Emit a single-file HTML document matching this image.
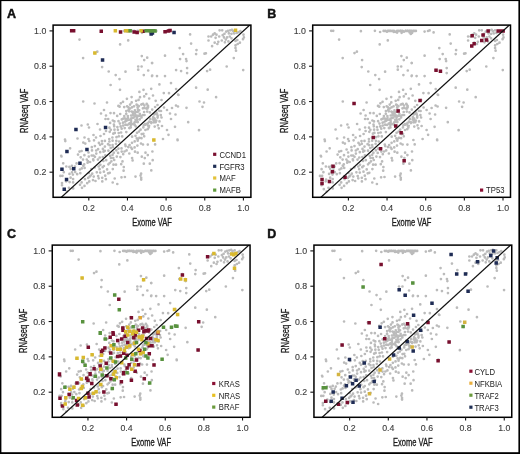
<!DOCTYPE html>
<html><head><meta charset="utf-8"><style>
html,body{margin:0;padding:0;background:#fff;}
svg{display:block;filter:blur(0.3px);}
text{font-family:"Liberation Sans", sans-serif;}
.tk{font-size:8.8px;fill:#3c3c3c;stroke:#3c3c3c;stroke-width:0.12px;}
.ax{font-size:10.2px;fill:#1a1a1a;stroke:#1a1a1a;stroke-width:0.3px;}
.lg{font-size:8.3px;fill:#222;}
.pl{font-size:12.5px;font-weight:bold;fill:#111;stroke:#111;stroke-width:0.45px;}
</style></head><body>
<svg width="520" height="454" viewBox="0 0 520 454">
<defs><path id="mg" fill="none" stroke="#bbbbbb" stroke-width="2.7" stroke-linecap="round" d="M97.3 51.7h0M79.5 39.6h0M120.1 44.4h0M128.2 40.4h0M83.1 58.1h0M102.1 67.1h0M108.7 71.5h0M115.7 75.1h0M119.5 79.1h0M125.5 71.7h0M141.8 56.1h0M147.2 57.7h0M144.2 60.1h0M152.2 63.1h0M138.2 66.5h0M141.6 66.5h0M138.2 69.7h0M148.2 70.5h0M143.8 75.1h0M152.2 75.7h0M190.1 34.4h0M191.1 43.6h0M179.7 48.1h0M196.5 50.1h0M196.1 54.1h0M204.5 53.7h0M165.0 55.7h0M183.1 54.1h0M180.1 59.1h0M186.1 59.1h0M186.5 61.1h0M152.0 63.1h0M176.1 70.1h0M181.1 71.1h0M187.1 68.1h0M187.1 73.1h0M207.1 71.1h0M210.1 69.7h0M226.7 66.5h0M243.2 70.1h0M233.8 58.1h0M152.0 76.1h0M157.0 76.1h0M165.0 76.1h0M171.0 83.1h0M176.1 89.1h0M196.1 87.7h0M207.7 89.7h0M169.0 93.2h0M178.1 94.6h0M216.1 97.2h0M177.6 140.2h0M68.9 187.8h0M73.2 188.4h0M62.0 185.2h0M67.0 191.5h0M84.5 185.9h0M82.0 187.8h0M110.6 85.0h0M120.0 89.8h0M139.4 91.9h0M143.5 89.8h0M151.2 88.8h0M159.4 84.4h0M146.2 94.0h0M163.8 93.1h0M120.8 103.3h0M123.0 101.8h0M126.9 98.8h0M131.6 97.1h0M131.7 102.4h0M136.1 100.8h0M138.6 99.9h0M140.0 97.2h0M144.2 96.4h0M149.2 98.5h0M153.0 95.5h0M155.7 100.8h0M118.4 105.9h0M119.6 106.7h0M124.2 107.1h0M128.4 107.3h0M130.1 108.5h0M134.0 106.3h0M137.6 107.6h0M139.2 110.3h0M142.9 108.3h0M143.1 103.8h0M147.1 104.5h0M148.1 107.1h0M152.2 109.6h0M155.1 107.0h0M157.5 105.0h0M110.5 113.1h0M114.0 113.2h0M117.2 115.9h0M120.2 114.0h0M126.2 113.8h0M126.3 111.1h0M129.2 111.3h0M131.8 111.6h0M133.3 114.8h0M135.0 113.5h0M137.7 111.8h0M139.8 113.9h0M142.9 115.0h0M144.1 112.0h0M147.2 111.6h0M149.9 112.4h0M131.1 115.5h0M135.4 116.2h0M127.8 116.1h0M108.2 119.0h0M112.8 120.5h0M114.4 121.4h0M118.5 121.2h0M121.8 119.4h0M123.3 118.6h0M127.9 118.1h0M130.1 119.8h0M133.6 117.6h0M135.5 119.8h0M137.0 117.6h0M141.5 117.4h0M144.5 115.0h0M126.4 120.8h0M129.3 123.6h0M131.1 122.1h0M134.7 122.3h0M137.1 121.8h0M123.0 122.7h0M119.9 123.6h0M110.1 122.9h0M113.9 124.6h0M109.4 127.7h0M110.8 129.8h0M114.2 126.3h0M117.4 127.1h0M120.6 126.4h0M123.1 125.6h0M125.5 124.7h0M130.8 125.1h0M132.9 124.1h0M114.5 129.7h0M117.9 129.8h0M121.7 128.7h0M124.7 128.1h0M129.4 128.2h0M109.7 131.8h0M113.3 133.7h0M114.8 132.9h0M118.7 133.1h0M121.1 132.5h0M126.3 132.1h0M112.4 137.5h0M116.5 137.2h0M118.9 136.3h0M122.2 136.4h0M109.3 139.1h0M132.1 136.7h0M135.5 135.8h0M137.0 132.8h0M139.0 131.5h0M140.6 129.7h0M143.3 127.4h0M145.2 124.1h0M147.3 123.7h0M149.3 121.7h0M150.3 118.9h0M153.4 117.9h0M154.2 114.4h0M156.5 112.5h0M159.3 110.8h0M136.8 138.4h0M139.4 137.8h0M141.7 134.1h0M137.8 139.3h0M143.4 133.8h0M145.4 130.0h0M148.8 127.4h0M149.1 125.8h0M151.3 123.1h0M153.8 122.3h0M156.3 120.7h0M157.6 117.6h0M160.8 115.1h0M144.2 136.3h0M141.5 138.2h0M154.7 126.6h0M157.9 125.3h0M159.5 121.4h0M158.8 128.3h0M83.2 101.5h0M94.5 103.5h0M107.0 102.5h0M104.0 110.0h0M101.0 113.5h0M106.0 115.5h0M105.5 119.0h0M81.5 125.5h0M87.8 124.5h0M89.0 127.5h0M97.5 124.0h0M100.0 129.5h0M93.5 135.0h0M96.0 137.5h0M100.5 136.0h0M104.0 134.0h0M106.0 131.0h0M84.5 137.5h0M88.5 139.0h0M77.5 138.5h0M65.0 139.5h0M65.3 141.1h0M70.1 148.3h0M61.2 155.8h0M61.5 156.5h0M83.3 142.6h0M85.3 143.6h0M89.3 141.0h0M94.0 140.3h0M98.9 142.9h0M101.9 141.1h0M104.9 140.9h0M91.8 147.2h0M94.9 146.1h0M100.1 144.8h0M102.2 143.8h0M108.0 144.2h0M79.5 151.6h0M81.6 151.0h0M84.4 155.2h0M88.5 152.5h0M92.0 150.4h0M96.2 150.5h0M98.1 149.2h0M102.9 148.9h0M104.9 146.6h0M104.8 150.8h0M103.5 151.7h0M100.2 152.2h0M96.3 153.6h0M93.4 155.5h0M91.7 155.5h0M88.8 156.6h0M86.8 159.5h0M83.0 159.6h0M80.7 157.3h0M78.0 154.6h0M87.9 161.2h0M93.2 159.4h0M94.9 156.8h0M99.7 157.5h0M102.8 157.1h0M105.3 155.3h0M63.2 163.3h0M66.3 166.5h0M69.4 166.9h0M71.9 165.9h0M76.6 163.4h0M75.0 166.6h0M83.2 165.7h0M84.2 164.4h0M87.6 162.7h0M90.1 162.0h0M93.4 160.3h0M97.9 159.6h0M70.7 168.9h0M72.0 172.3h0M69.5 173.9h0M75.2 172.1h0M79.9 169.5h0M81.8 168.4h0M84.6 167.9h0M63.8 172.2h0M60.4 175.9h0M62.5 175.8h0M70.6 177.7h0M72.9 174.6h0M77.2 174.2h0M80.3 173.2h0M66.1 181.3h0M62.0 183.0h0M69.6 182.1h0M73.1 179.1h0M73.1 182.4h0M88.8 173.0h0M91.4 169.1h0M94.8 167.5h0M98.6 166.5h0M100.4 164.8h0M103.4 161.0h0M106.2 160.2h0M90.7 175.5h0M92.2 173.7h0M96.8 172.3h0M99.6 169.2h0M102.7 167.2h0M103.9 166.0h0M108.4 164.3h0M85.0 179.2h0M88.2 177.9h0M89.8 176.4h0M93.7 176.6h0M98.1 176.1h0M100.2 172.6h0M103.9 171.7h0M107.1 169.4h0M87.2 183.2h0M89.3 181.4h0M93.0 180.1h0M95.5 181.0h0M98.7 178.3h0M102.2 177.8h0M105.2 175.7h0M108.1 173.3h0M102.3 181.4h0M105.9 179.2h0M80.0 184.8h0M81.6 182.4h0M109.4 141.5h0M112.6 140.7h0M116.3 140.8h0M119.1 141.5h0M109.6 145.2h0M112.6 145.1h0M116.0 143.8h0M110.7 148.0h0M112.8 147.0h0M108.4 150.7h0M125.2 144.6h0M129.6 145.0h0M132.0 142.8h0M134.7 141.4h0M137.7 140.7h0M141.0 143.5h0M143.0 144.5h0M137.4 145.6h0M134.6 147.4h0M131.1 147.6h0M128.3 147.1h0M125.6 146.1h0M121.5 148.4h0M118.5 148.6h0M116.3 150.3h0M113.8 152.7h0M112.6 154.8h0M110.1 155.8h0M118.1 152.9h0M121.7 151.6h0M124.5 151.5h0M126.6 150.4h0M129.3 153.5h0M132.0 148.9h0M135.0 151.7h0M137.7 152.7h0M123.2 154.2h0M120.4 157.1h0M116.8 156.6h0M113.3 158.1h0M110.9 157.9h0M111.4 161.3h0M114.2 160.0h0M109.7 163.0h0M113.5 164.7h0M116.0 164.7h0M122.5 161.4h0M121.2 164.2h0M123.8 167.1h0M123.6 170.7h0M112.8 169.1h0M109.7 172.8h0M132.1 158.0h0M132.6 160.4h0M141.8 156.7h0M145.5 152.7h0M147.8 155.1h0M144.8 158.1h0M143.8 163.7h0M152.4 151.5h0M152.7 160.2h0M149.8 163.7h0M147.8 144.6h0M155.1 144.4h0M151.3 170.4h0M135.5 176.6h0M141.1 173.7h0M140.5 175.6h0M141.2 177.9h0M141.2 179.6h0M121.5 177.3h0M124.9 177.0h0M114.7 178.5h0M112.7 182.5h0M117.3 184.0h0M161.5 100.0h0M164.0 107.5h0M167.0 110.0h0M172.0 108.0h0M176.0 105.5h0M178.0 106.5h0M170.0 113.5h0M175.5 114.5h0M171.0 119.0h0M161.0 111.0h0M161.5 117.5h0M162.0 126.0h0M167.0 130.0h0M175.0 126.8h0M168.5 134.8h0M163.0 139.0h0M177.5 139.5h0M186.5 107.8h0M188.2 122.2h0M199.5 101.5h0M204.0 102.5h0M202.5 106.8h0M199.0 130.2h0M178.5 95.0h0M128.6 109.9h0M126.7 119.2h0M137.9 109.6h0M127.5 124.9h0M136.8 115.5h0M139.1 115.8h0M141.8 104.3h0M135.8 112.1h0M137.1 121.9h0M130.5 123.0h0M141.3 104.6h0M130.8 127.4h0M125.3 118.6h0M146.7 103.9h0M144.5 108.0h0M124.3 116.1h0M147.3 107.7h0M137.1 119.9h0M136.6 104.7h0M141.4 116.2h0M135.7 126.3h0M144.4 105.5h0M133.9 123.6h0M136.8 116.0h0M146.9 108.7h0M132.0 107.3h0M133.0 113.7h0M137.2 105.2h0M133.2 112.4h0M127.9 120.0h0M137.8 122.1h0M146.5 108.5h0M131.0 120.3h0M125.5 124.5h0M130.1 104.6h0M148.0 105.8h0M147.5 108.5h0M129.3 128.0h0M125.1 121.6h0M134.9 110.3h0M134.7 124.9h0M127.1 106.3h0M138.8 106.2h0M130.9 118.6h0M139.7 119.4h0M132.5 117.9h0M154.9 121.5h0M154.0 120.2h0M157.7 116.0h0M148.1 122.8h0M154.6 118.6h0M143.8 125.3h0M148.2 125.7h0M147.7 129.2h0M157.2 114.3h0M155.9 113.8h0M153.1 119.6h0M153.2 117.2h0M145.5 124.7h0M155.7 122.2h0M151.1 122.0h0M219.6 30.3h0M222.2 30.3h0M228.0 30.8h0M230.2 30.3h0M232.0 29.9h0M228.9 33.4h0M231.5 33.8h0M234.2 33.4h0M236.8 33.0h0M238.6 32.1h0M240.4 31.2h0M214.7 33.4h0M213.0 34.7h0M216.5 34.7h0M208.5 36.5h0M211.2 36.5h0M215.6 37.8h0M219.2 36.5h0M222.7 35.2h0M224.0 37.4h0M227.1 37.4h0M225.8 39.6h0M221.8 40.5h0M218.3 41.8h0M214.7 42.7h0M217.4 44.0h0M212.1 46.2h0M208.5 40.5h0M229.8 36.5h0M231.5 38.3h0M228.4 41.4h0M224.9 42.3h0M243.5 34.7h0M243.9 37.4h0M243.0 39.2h0M235.5 40.9h0M237.3 40.0h0M239.9 42.7h0M237.7 44.0h0M235.5 45.4h0M235.5 48.0h0M236.0 50.7h0M205.9 53.3h0M226.2 31.6h0M233.3 31.2h0M224.5 33.8h0M124.0 30.9h0M125.7 30.9h0M127.4 31.7h0M129.1 30.9h0M130.8 30.9h0M132.5 30.9h0M134.2 30.9h0M135.9 31.7h0M137.6 30.9h0M139.3 30.9h0M141.0 30.9h0M142.7 30.9h0M144.4 31.7h0M146.1 30.9h0M147.8 30.9h0M149.5 30.9h0M151.2 30.9h0M152.9 31.7h0M154.6 30.9h0M156.3 30.9h0M137.5 32.6h0M142.0 32.8h0M150.0 32.4h0M71.6 30.8h0M73.6 30.8h0M101.3 31.2h0M120.5 32.0h0M134.2 32.0h0M137.2 32.4h0M143.2 31.2h0M151.2 34.0h0M102.5 60.1h0M115.3 30.8h0M125.7 30.8h0M128.2 30.8h0M141.2 30.8h0M94.9 53.1h0M130.2 30.8h0M146.2 30.8h0M148.2 30.8h0M150.2 30.8h0M152.2 30.8h0M153.8 30.8h0M165.0 31.6h0M168.4 31.0h0M170.0 30.4h0M174.0 32.4h0M152.4 33.0h0M151.0 31.0h0M153.0 31.0h0M155.0 31.0h0M64.2 189.2h0M153.8 140.0h0M76.0 129.5h0M105.5 127.5h0M67.0 151.5h0M87.0 149.5h0M80.0 163.2h0M73.8 168.8h0M62.0 169.2h0M66.5 179.5h0M235.5 30.3h0"/><clipPath id="clip"><rect x="53.1" y="25.1" width="197.80" height="172.20"/></clipPath></defs>
<rect width="520" height="454" fill="#fff"/>
<g transform="translate(0,0)">
<g clip-path="url(#clip)">
<use href="#mg"/>
<path fill="#780f2e" d="M69.9 29.1h3.5v3.5h-3.5zM71.9 29.1h3.5v3.5h-3.5zM99.5 29.5h3.5v3.5h-3.5zM118.8 30.3h3.5v3.5h-3.5zM132.4 30.3h3.5v3.5h-3.5zM135.4 30.7h3.5v3.5h-3.5zM141.4 29.5h3.5v3.5h-3.5zM163.3 29.9h3.5v3.5h-3.5zM166.7 29.3h3.5v3.5h-3.5zM168.3 28.7h3.5v3.5h-3.5z"/>
<path fill="#1f2c55" d="M149.4 32.3h3.5v3.5h-3.5zM100.8 58.3h3.5v3.5h-3.5zM172.3 30.7h3.5v3.5h-3.5zM150.7 31.3h3.5v3.5h-3.5zM62.5 187.5h3.5v3.5h-3.5zM74.2 127.8h3.5v3.5h-3.5zM103.8 125.8h3.5v3.5h-3.5zM65.2 149.8h3.5v3.5h-3.5zM85.2 147.8h3.5v3.5h-3.5zM78.2 161.4h3.5v3.5h-3.5zM72.0 167.1h3.5v3.5h-3.5zM60.2 167.4h3.5v3.5h-3.5zM64.8 177.8h3.5v3.5h-3.5z"/>
<path fill="#d9b92e" d="M113.6 29.1h3.5v3.5h-3.5zM124.0 29.1h3.5v3.5h-3.5zM126.4 29.1h3.5v3.5h-3.5zM139.4 29.1h3.5v3.5h-3.5zM93.1 51.3h3.5v3.5h-3.5zM152.1 138.2h3.5v3.5h-3.5zM233.8 28.6h3.5v3.5h-3.5z"/>
<path fill="#58923e" d="M128.4 29.1h3.5v3.5h-3.5zM144.4 29.1h3.5v3.5h-3.5zM146.4 29.1h3.5v3.5h-3.5zM148.4 29.1h3.5v3.5h-3.5zM150.4 29.1h3.5v3.5h-3.5zM152.0 29.1h3.5v3.5h-3.5zM149.3 29.3h3.5v3.5h-3.5zM151.3 29.3h3.5v3.5h-3.5zM153.3 29.3h3.5v3.5h-3.5z"/>
<line x1="50.15" y1="207.50" x2="262.73" y2="13.24" stroke="#111" stroke-width="1.25"/>
</g>
<rect x="53.1" y="25.1" width="197.80" height="172.20" fill="none" stroke="#000" stroke-width="1.5"/>
<line x1="88.80" y1="197.3" x2="88.80" y2="200.50" stroke="#111" stroke-width="1.1"/>
<line x1="49.50" y1="172.18" x2="53.1" y2="172.18" stroke="#111" stroke-width="1.1"/>
<text x="88.80" y="211.3" class="tk" text-anchor="middle">0.2</text>
<text x="46.3" y="175.33" class="tk" text-anchor="end">0.2</text>
<line x1="127.45" y1="197.3" x2="127.45" y2="200.50" stroke="#111" stroke-width="1.1"/>
<line x1="49.50" y1="136.86" x2="53.1" y2="136.86" stroke="#111" stroke-width="1.1"/>
<text x="127.45" y="211.3" class="tk" text-anchor="middle">0.4</text>
<text x="46.3" y="140.01" class="tk" text-anchor="end">0.4</text>
<line x1="166.10" y1="197.3" x2="166.10" y2="200.50" stroke="#111" stroke-width="1.1"/>
<line x1="49.50" y1="101.54" x2="53.1" y2="101.54" stroke="#111" stroke-width="1.1"/>
<text x="166.10" y="211.3" class="tk" text-anchor="middle">0.6</text>
<text x="46.3" y="104.69" class="tk" text-anchor="end">0.6</text>
<line x1="204.75" y1="197.3" x2="204.75" y2="200.50" stroke="#111" stroke-width="1.1"/>
<line x1="49.50" y1="66.22" x2="53.1" y2="66.22" stroke="#111" stroke-width="1.1"/>
<text x="204.75" y="211.3" class="tk" text-anchor="middle">0.8</text>
<text x="46.3" y="69.37" class="tk" text-anchor="end">0.8</text>
<line x1="243.40" y1="197.3" x2="243.40" y2="200.50" stroke="#111" stroke-width="1.1"/>
<line x1="49.50" y1="30.90" x2="53.1" y2="30.90" stroke="#111" stroke-width="1.1"/>
<text x="243.40" y="211.3" class="tk" text-anchor="middle">1.0</text>
<text x="46.3" y="34.05" class="tk" text-anchor="end">1.0</text>
<text x="152" y="225.7" class="ax" text-anchor="middle" transform="translate(152,0) scale(0.74,1) translate(-152,0)">Exome VAF</text>
<text x="0" y="0" class="ax" text-anchor="middle" transform="translate(28.1,110.8) rotate(-90) scale(0.74,1)">RNAseq VAF</text>
<rect x="213.10" y="152.70" width="3.2" height="3.2" fill="#7a1030"/>
<text transform="translate(219.40,157.60) scale(0.93,1)" class="lg">CCND1</text>
<rect x="213.10" y="164.70" width="3.2" height="3.2" fill="#1f2f55"/>
<text transform="translate(219.40,169.60) scale(0.93,1)" class="lg">FGFR3</text>
<rect x="213.10" y="176.40" width="3.2" height="3.2" fill="#e3c23a"/>
<text transform="translate(219.40,181.30) scale(0.93,1)" class="lg">MAF</text>
<rect x="213.10" y="188.50" width="3.2" height="3.2" fill="#5f9a3c"/>
<text transform="translate(219.40,193.40) scale(0.93,1)" class="lg">MAFB</text>
</g>
<text x="7.0" y="17.6" class="pl">A</text>
<g transform="translate(259.6,0)">
<g clip-path="url(#clip)">
<use href="#mg"/>
<path fill="#780f2e" d="M92.7 101.8h3.5v3.5h-3.5zM210.8 33.9h3.5v3.5h-3.5zM212.8 41.9h3.5v3.5h-3.5zM210.4 44.3h3.5v3.5h-3.5zM221.8 33.3h3.5v3.5h-3.5zM220.4 38.7h3.5v3.5h-3.5zM225.2 38.3h3.5v3.5h-3.5zM226.8 29.3h3.5v3.5h-3.5zM236.8 29.3h3.5v3.5h-3.5zM239.8 29.3h3.5v3.5h-3.5zM241.8 29.3h3.5v3.5h-3.5zM174.7 68.4h3.5v3.5h-3.5zM179.1 69.6h3.5v3.5h-3.5zM158.7 98.8h3.5v3.5h-3.5zM136.8 109.3h3.5v3.5h-3.5zM134.4 124.3h3.5v3.5h-3.5zM139.8 130.9h3.5v3.5h-3.5zM112.0 135.7h3.5v3.5h-3.5zM119.2 146.9h3.5v3.5h-3.5zM142.8 159.0h3.5v3.5h-3.5zM71.7 164.4h3.5v3.5h-3.5zM71.1 170.0h3.5v3.5h-3.5zM83.7 175.4h3.5v3.5h-3.5zM68.1 179.8h3.5v3.5h-3.5zM60.7 177.8h3.5v3.5h-3.5zM60.7 181.8h3.5v3.5h-3.5z"/>
<line x1="50.15" y1="207.50" x2="262.73" y2="13.24" stroke="#111" stroke-width="1.25"/>
</g>
<rect x="53.1" y="25.1" width="197.80" height="172.20" fill="none" stroke="#000" stroke-width="1.5"/>
<line x1="88.80" y1="197.3" x2="88.80" y2="200.50" stroke="#111" stroke-width="1.1"/>
<line x1="49.50" y1="172.18" x2="53.1" y2="172.18" stroke="#111" stroke-width="1.1"/>
<text x="88.80" y="211.3" class="tk" text-anchor="middle">0.2</text>
<text x="46.3" y="175.33" class="tk" text-anchor="end">0.2</text>
<line x1="127.45" y1="197.3" x2="127.45" y2="200.50" stroke="#111" stroke-width="1.1"/>
<line x1="49.50" y1="136.86" x2="53.1" y2="136.86" stroke="#111" stroke-width="1.1"/>
<text x="127.45" y="211.3" class="tk" text-anchor="middle">0.4</text>
<text x="46.3" y="140.01" class="tk" text-anchor="end">0.4</text>
<line x1="166.10" y1="197.3" x2="166.10" y2="200.50" stroke="#111" stroke-width="1.1"/>
<line x1="49.50" y1="101.54" x2="53.1" y2="101.54" stroke="#111" stroke-width="1.1"/>
<text x="166.10" y="211.3" class="tk" text-anchor="middle">0.6</text>
<text x="46.3" y="104.69" class="tk" text-anchor="end">0.6</text>
<line x1="204.75" y1="197.3" x2="204.75" y2="200.50" stroke="#111" stroke-width="1.1"/>
<line x1="49.50" y1="66.22" x2="53.1" y2="66.22" stroke="#111" stroke-width="1.1"/>
<text x="204.75" y="211.3" class="tk" text-anchor="middle">0.8</text>
<text x="46.3" y="69.37" class="tk" text-anchor="end">0.8</text>
<line x1="243.40" y1="197.3" x2="243.40" y2="200.50" stroke="#111" stroke-width="1.1"/>
<line x1="49.50" y1="30.90" x2="53.1" y2="30.90" stroke="#111" stroke-width="1.1"/>
<text x="243.40" y="211.3" class="tk" text-anchor="middle">1.0</text>
<text x="46.3" y="34.05" class="tk" text-anchor="end">1.0</text>
<text x="152" y="225.7" class="ax" text-anchor="middle" transform="translate(152,0) scale(0.74,1) translate(-152,0)">Exome VAF</text>
<text x="0" y="0" class="ax" text-anchor="middle" transform="translate(28.1,110.8) rotate(-90) scale(0.74,1)">RNAseq VAF</text>
<rect x="220.40" y="188.50" width="3.2" height="3.2" fill="#8a1033"/>
<text transform="translate(226.50,193.40) scale(0.93,1)" class="lg">TP53</text>
</g>
<text x="267.3" y="17.8" class="pl">B</text>
<g transform="translate(-0.85,220)">
<g clip-path="url(#clip)">
<use href="#mg"/>
<path fill="#780f2e" d="M206.7 35.0h3.5v3.5h-3.5zM181.5 53.2h3.5v3.5h-3.5zM117.9 77.6h3.5v3.5h-3.5zM130.5 95.9h3.5v3.5h-3.5zM121.9 106.3h3.5v3.5h-3.5zM137.7 108.6h3.5v3.5h-3.5zM141.7 106.3h3.5v3.5h-3.5zM145.1 109.0h3.5v3.5h-3.5zM147.8 108.3h3.5v3.5h-3.5zM112.1 111.0h3.5v3.5h-3.5zM197.8 100.0h3.5v3.5h-3.5zM87.4 125.4h3.5v3.5h-3.5zM112.4 112.4h3.5v3.5h-3.5zM109.3 115.6h3.5v3.5h-3.5zM116.8 118.7h3.5v3.5h-3.5zM104.0 126.3h3.5v3.5h-3.5zM101.7 128.5h3.5v3.5h-3.5zM100.6 130.1h3.5v3.5h-3.5zM109.8 131.2h3.5v3.5h-3.5zM116.8 134.8h3.5v3.5h-3.5zM105.3 141.5h3.5v3.5h-3.5zM99.3 144.2h3.5v3.5h-3.5zM93.2 146.9h3.5v3.5h-3.5zM89.2 151.9h3.5v3.5h-3.5zM58.6 152.3h3.5v3.5h-3.5zM122.1 108.6h3.5v3.5h-3.5zM120.8 117.3h3.5v3.5h-3.5zM124.2 114.6h3.5v3.5h-3.5zM126.8 120.7h3.5v3.5h-3.5zM132.9 116.0h3.5v3.5h-3.5zM134.3 113.3h3.5v3.5h-3.5zM143.0 109.9h3.5v3.5h-3.5zM147.0 109.3h3.5v3.5h-3.5zM145.7 116.7h3.5v3.5h-3.5zM149.7 116.7h3.5v3.5h-3.5zM157.1 111.3h3.5v3.5h-3.5zM148.4 124.1h3.5v3.5h-3.5zM151.1 124.1h3.5v3.5h-3.5zM148.4 132.1h3.5v3.5h-3.5zM119.4 134.2h3.5v3.5h-3.5zM122.8 131.5h3.5v3.5h-3.5zM126.2 133.5h3.5v3.5h-3.5zM135.6 138.2h3.5v3.5h-3.5zM137.6 142.9h3.5v3.5h-3.5zM128.2 142.9h3.5v3.5h-3.5zM126.2 146.3h3.5v3.5h-3.5zM134.3 149.6h3.5v3.5h-3.5zM122.8 151.0h3.5v3.5h-3.5zM153.1 143.3h3.5v3.5h-3.5zM139.0 128.8h3.5v3.5h-3.5zM58.6 152.9h3.5v3.5h-3.5zM89.2 152.6h3.5v3.5h-3.5zM85.8 156.6h3.5v3.5h-3.5zM87.1 158.6h3.5v3.5h-3.5zM76.1 161.3h3.5v3.5h-3.5zM90.9 161.7h3.5v3.5h-3.5zM110.0 156.9h3.5v3.5h-3.5zM68.3 172.8h3.5v3.5h-3.5zM59.1 176.5h3.5v3.5h-3.5zM61.6 184.2h3.5v3.5h-3.5zM75.7 178.8h3.5v3.5h-3.5zM76.4 183.3h3.5v3.5h-3.5zM88.2 175.2h3.5v3.5h-3.5zM103.0 170.3h3.5v3.5h-3.5zM115.1 182.5h3.5v3.5h-3.5zM106.0 153.9h3.5v3.5h-3.5zM87.1 171.4h3.5v3.5h-3.5zM122.8 151.9h3.5v3.5h-3.5zM120.5 160.0h3.5v3.5h-3.5zM130.5 158.6h3.5v3.5h-3.5zM143.4 156.9h3.5v3.5h-3.5zM197.2 128.3h3.5v3.5h-3.5z"/>
<path fill="#d9b92e" d="M213.0 31.7h3.5v3.5h-3.5zM230.9 32.3h3.5v3.5h-3.5zM232.9 33.0h3.5v3.5h-3.5zM235.0 31.7h3.5v3.5h-3.5zM233.6 46.5h3.5v3.5h-3.5zM184.5 57.9h3.5v3.5h-3.5zM179.8 57.2h3.5v3.5h-3.5zM81.2 56.3h3.5v3.5h-3.5zM142.7 57.9h3.5v3.5h-3.5zM126.9 105.6h3.5v3.5h-3.5zM128.9 109.6h3.5v3.5h-3.5zM132.9 109.6h3.5v3.5h-3.5zM173.6 87.8h3.5v3.5h-3.5zM176.7 92.8h3.5v3.5h-3.5zM76.1 136.6h3.5v3.5h-3.5zM82.4 135.8h3.5v3.5h-3.5zM91.2 133.1h3.5v3.5h-3.5zM100.6 133.5h3.5v3.5h-3.5zM99.9 138.9h3.5v3.5h-3.5zM110.3 124.1h3.5v3.5h-3.5zM112.7 126.8h3.5v3.5h-3.5zM116.8 127.4h3.5v3.5h-3.5zM112.4 139.5h3.5v3.5h-3.5zM114.1 150.0h3.5v3.5h-3.5zM99.9 147.6h3.5v3.5h-3.5zM124.8 109.9h3.5v3.5h-3.5zM126.8 113.3h3.5v3.5h-3.5zM131.6 112.0h3.5v3.5h-3.5zM135.6 110.6h3.5v3.5h-3.5zM138.3 115.3h3.5v3.5h-3.5zM141.7 114.6h3.5v3.5h-3.5zM141.0 118.0h3.5v3.5h-3.5zM128.9 124.1h3.5v3.5h-3.5zM125.5 125.4h3.5v3.5h-3.5zM133.6 121.4h3.5v3.5h-3.5zM119.4 127.4h3.5v3.5h-3.5zM123.5 128.8h3.5v3.5h-3.5zM137.6 127.4h3.5v3.5h-3.5zM142.3 130.8h3.5v3.5h-3.5zM147.0 122.0h3.5v3.5h-3.5zM155.1 118.0h3.5v3.5h-3.5zM157.1 118.7h3.5v3.5h-3.5zM131.6 132.8h3.5v3.5h-3.5zM139.6 132.1h3.5v3.5h-3.5zM120.8 140.9h3.5v3.5h-3.5zM130.9 147.6h3.5v3.5h-3.5zM133.6 142.9h3.5v3.5h-3.5zM80.4 157.3h3.5v3.5h-3.5zM81.5 164.7h3.5v3.5h-3.5zM80.4 166.7h3.5v3.5h-3.5zM69.0 167.4h3.5v3.5h-3.5zM73.0 165.4h3.5v3.5h-3.5zM64.9 176.1h3.5v3.5h-3.5zM64.3 182.2h3.5v3.5h-3.5zM81.8 183.5h3.5v3.5h-3.5zM84.4 176.1h3.5v3.5h-3.5zM92.5 171.4h3.5v3.5h-3.5zM95.2 170.1h3.5v3.5h-3.5zM99.9 162.7h3.5v3.5h-3.5zM77.7 176.8h3.5v3.5h-3.5zM115.4 156.0h3.5v3.5h-3.5zM112.7 152.6h3.5v3.5h-3.5z"/>
<path fill="#58923e" d="M113.8 73.3h3.5v3.5h-3.5zM118.4 88.1h3.5v3.5h-3.5zM81.8 100.0h3.5v3.5h-3.5zM132.3 104.9h3.5v3.5h-3.5zM99.3 111.0h3.5v3.5h-3.5zM162.6 105.6h3.5v3.5h-3.5zM170.6 105.6h3.5v3.5h-3.5zM174.7 104.3h3.5v3.5h-3.5zM176.0 104.5h3.5v3.5h-3.5zM99.3 111.6h3.5v3.5h-3.5zM104.4 117.3h3.5v3.5h-3.5zM113.0 123.1h3.5v3.5h-3.5zM109.8 136.2h3.5v3.5h-3.5zM114.7 140.2h3.5v3.5h-3.5zM81.8 139.5h3.5v3.5h-3.5zM84.2 143.6h3.5v3.5h-3.5zM106.0 146.3h3.5v3.5h-3.5zM135.6 120.7h3.5v3.5h-3.5zM145.0 120.7h3.5v3.5h-3.5zM143.7 127.4h3.5v3.5h-3.5zM145.0 134.2h3.5v3.5h-3.5zM147.0 136.2h3.5v3.5h-3.5zM134.9 132.1h3.5v3.5h-3.5zM124.8 136.2h3.5v3.5h-3.5zM130.9 137.5h3.5v3.5h-3.5zM161.2 137.5h3.5v3.5h-3.5zM126.2 151.0h3.5v3.5h-3.5zM64.0 165.4h3.5v3.5h-3.5zM72.3 176.1h3.5v3.5h-3.5zM94.5 154.6h3.5v3.5h-3.5zM101.3 153.3h3.5v3.5h-3.5zM113.4 158.0h3.5v3.5h-3.5zM111.4 166.7h3.5v3.5h-3.5zM148.8 161.3h3.5v3.5h-3.5z"/>
<path fill="#e0a838" d="M139.4 95.9h3.5v3.5h-3.5zM157.2 110.3h3.5v3.5h-3.5z"/>
<line x1="50.15" y1="207.50" x2="262.73" y2="13.24" stroke="#111" stroke-width="1.25"/>
</g>
<rect x="53.1" y="25.1" width="197.80" height="172.20" fill="none" stroke="#000" stroke-width="1.5"/>
<line x1="88.80" y1="197.3" x2="88.80" y2="200.50" stroke="#111" stroke-width="1.1"/>
<line x1="49.50" y1="172.18" x2="53.1" y2="172.18" stroke="#111" stroke-width="1.1"/>
<text x="88.80" y="211.3" class="tk" text-anchor="middle">0.2</text>
<text x="46.3" y="175.33" class="tk" text-anchor="end">0.2</text>
<line x1="127.45" y1="197.3" x2="127.45" y2="200.50" stroke="#111" stroke-width="1.1"/>
<line x1="49.50" y1="136.86" x2="53.1" y2="136.86" stroke="#111" stroke-width="1.1"/>
<text x="127.45" y="211.3" class="tk" text-anchor="middle">0.4</text>
<text x="46.3" y="140.01" class="tk" text-anchor="end">0.4</text>
<line x1="166.10" y1="197.3" x2="166.10" y2="200.50" stroke="#111" stroke-width="1.1"/>
<line x1="49.50" y1="101.54" x2="53.1" y2="101.54" stroke="#111" stroke-width="1.1"/>
<text x="166.10" y="211.3" class="tk" text-anchor="middle">0.6</text>
<text x="46.3" y="104.69" class="tk" text-anchor="end">0.6</text>
<line x1="204.75" y1="197.3" x2="204.75" y2="200.50" stroke="#111" stroke-width="1.1"/>
<line x1="49.50" y1="66.22" x2="53.1" y2="66.22" stroke="#111" stroke-width="1.1"/>
<text x="204.75" y="211.3" class="tk" text-anchor="middle">0.8</text>
<text x="46.3" y="69.37" class="tk" text-anchor="end">0.8</text>
<line x1="243.40" y1="197.3" x2="243.40" y2="200.50" stroke="#111" stroke-width="1.1"/>
<line x1="49.50" y1="30.90" x2="53.1" y2="30.90" stroke="#111" stroke-width="1.1"/>
<text x="243.40" y="211.3" class="tk" text-anchor="middle">1.0</text>
<text x="46.3" y="34.05" class="tk" text-anchor="end">1.0</text>
<text x="152" y="225.7" class="ax" text-anchor="middle" transform="translate(152,0) scale(0.74,1) translate(-152,0)">Exome VAF</text>
<text x="0" y="0" class="ax" text-anchor="middle" transform="translate(28.1,110.8) rotate(-90) scale(0.74,1)">RNAseq VAF</text>
<rect x="213.00" y="161.90" width="3.2" height="3.2" fill="#8a1033"/>
<text transform="translate(219.65,166.80) scale(0.93,1)" class="lg">KRAS</text>
<rect x="213.00" y="173.70" width="3.2" height="3.2" fill="#e8c020"/>
<text transform="translate(219.65,178.60) scale(0.93,1)" class="lg">NRAS</text>
<rect x="213.00" y="185.50" width="3.2" height="3.2" fill="#6a9a3c"/>
<text transform="translate(219.65,190.40) scale(0.93,1)" class="lg">BRAF</text>
</g>
<text x="7.0" y="237.9" class="pl">C</text>
<g transform="translate(260.85,220)">
<g clip-path="url(#clip)">
<use href="#mg"/>
<path fill="#780f2e" d="M118.5 42.7h3.5v3.5h-3.5zM106.5 101.0h3.5v3.5h-3.5zM145.0 102.0h3.5v3.5h-3.5zM165.4 100.8h3.5v3.5h-3.5zM79.5 123.3h3.5v3.5h-3.5zM122.1 116.9h3.5v3.5h-3.5zM63.1 179.5h3.5v3.5h-3.5zM75.9 182.4h3.5v3.5h-3.5zM84.7 180.8h3.5v3.5h-3.5zM186.5 120.3h3.5v3.5h-3.5zM175.5 138.9h3.5v3.5h-3.5z"/>
<path fill="#1f2c55" d="M136.6 68.0h3.5v3.5h-3.5zM142.6 73.4h3.5v3.5h-3.5zM151.0 93.4h3.5v3.5h-3.5zM117.5 105.4h3.5v3.5h-3.5zM188.5 32.7h3.5v3.5h-3.5zM231.0 29.3h3.5v3.5h-3.5zM228.2 33.7h3.5v3.5h-3.5zM234.6 35.9h3.5v3.5h-3.5zM214.9 39.9h3.5v3.5h-3.5zM233.6 41.3h3.5v3.5h-3.5zM194.1 52.3h3.5v3.5h-3.5zM202.9 52.3h3.5v3.5h-3.5zM205.5 69.4h3.5v3.5h-3.5zM169.4 81.4h3.5v3.5h-3.5zM158.0 108.4h3.5v3.5h-3.5zM131.0 133.3h3.5v3.5h-3.5zM136.6 126.3h3.5v3.5h-3.5zM144.6 119.7h3.5v3.5h-3.5zM150.6 129.3h3.5v3.5h-3.5zM86.9 137.8h3.5v3.5h-3.5zM101.7 141.2h3.5v3.5h-3.5zM87.8 155.3h3.5v3.5h-3.5zM93.5 158.6h3.5v3.5h-3.5zM90.0 162.0h3.5v3.5h-3.5zM83.8 163.9h3.5v3.5h-3.5zM96.6 164.2h3.5v3.5h-3.5zM111.6 159.7h3.5v3.5h-3.5zM70.6 170.3h3.5v3.5h-3.5zM79.5 176.5h3.5v3.5h-3.5zM68.6 179.5h3.5v3.5h-3.5zM90.4 180.5h3.5v3.5h-3.5z"/>
<path fill="#58923e" d="M100.5 65.3h3.5v3.5h-3.5zM150.2 61.3h3.5v3.5h-3.5zM200.5 104.8h3.5v3.5h-3.5zM60.7 165.9h3.5v3.5h-3.5zM63.3 165.9h3.5v3.5h-3.5z"/>
<path fill="#d4b440" d="M202.1 100.4h3.5v3.5h-3.5zM117.5 148.3h3.5v3.5h-3.5zM127.0 137.3h3.5v3.5h-3.5zM149.6 125.3h3.5v3.5h-3.5zM75.9 152.7h3.5v3.5h-3.5zM106.9 171.9h3.5v3.5h-3.5z"/>
<line x1="50.15" y1="207.50" x2="262.73" y2="13.24" stroke="#111" stroke-width="1.25"/>
</g>
<rect x="53.1" y="25.1" width="197.80" height="172.20" fill="none" stroke="#000" stroke-width="1.5"/>
<line x1="88.80" y1="197.3" x2="88.80" y2="200.50" stroke="#111" stroke-width="1.1"/>
<line x1="49.50" y1="172.18" x2="53.1" y2="172.18" stroke="#111" stroke-width="1.1"/>
<text x="88.80" y="211.3" class="tk" text-anchor="middle">0.2</text>
<text x="46.3" y="175.33" class="tk" text-anchor="end">0.2</text>
<line x1="127.45" y1="197.3" x2="127.45" y2="200.50" stroke="#111" stroke-width="1.1"/>
<line x1="49.50" y1="136.86" x2="53.1" y2="136.86" stroke="#111" stroke-width="1.1"/>
<text x="127.45" y="211.3" class="tk" text-anchor="middle">0.4</text>
<text x="46.3" y="140.01" class="tk" text-anchor="end">0.4</text>
<line x1="166.10" y1="197.3" x2="166.10" y2="200.50" stroke="#111" stroke-width="1.1"/>
<line x1="49.50" y1="101.54" x2="53.1" y2="101.54" stroke="#111" stroke-width="1.1"/>
<text x="166.10" y="211.3" class="tk" text-anchor="middle">0.6</text>
<text x="46.3" y="104.69" class="tk" text-anchor="end">0.6</text>
<line x1="204.75" y1="197.3" x2="204.75" y2="200.50" stroke="#111" stroke-width="1.1"/>
<line x1="49.50" y1="66.22" x2="53.1" y2="66.22" stroke="#111" stroke-width="1.1"/>
<text x="204.75" y="211.3" class="tk" text-anchor="middle">0.8</text>
<text x="46.3" y="69.37" class="tk" text-anchor="end">0.8</text>
<line x1="243.40" y1="197.3" x2="243.40" y2="200.50" stroke="#111" stroke-width="1.1"/>
<line x1="49.50" y1="30.90" x2="53.1" y2="30.90" stroke="#111" stroke-width="1.1"/>
<text x="243.40" y="211.3" class="tk" text-anchor="middle">1.0</text>
<text x="46.3" y="34.05" class="tk" text-anchor="end">1.0</text>
<text x="152" y="225.7" class="ax" text-anchor="middle" transform="translate(152,0) scale(0.74,1) translate(-152,0)">Exome VAF</text>
<text x="0" y="0" class="ax" text-anchor="middle" transform="translate(28.1,110.8) rotate(-90) scale(0.74,1)">RNAseq VAF</text>
<rect x="208.45" y="149.60" width="3.2" height="3.2" fill="#8a1033"/>
<text transform="translate(213.55,154.50) scale(0.93,1)" class="lg">CYLD</text>
<rect x="208.45" y="161.60" width="3.2" height="3.2" fill="#eab040"/>
<text transform="translate(213.55,166.50) scale(0.93,1)" class="lg">NFKBIA</text>
<rect x="208.45" y="173.60" width="3.2" height="3.2" fill="#6a9a3c"/>
<text transform="translate(213.55,178.50) scale(0.93,1)" class="lg">TRAF2</text>
<rect x="208.45" y="185.60" width="3.2" height="3.2" fill="#1f2f55"/>
<text transform="translate(213.55,190.50) scale(0.93,1)" class="lg">TRAF3</text>
</g>
<text x="267.3" y="237.6" class="pl">D</text>
<rect x="0" y="0" width="520" height="1.1" fill="#000"/>
<rect x="0" y="0" width="1.4" height="454" fill="#000"/>
<rect x="518.4" y="0" width="1.6" height="454" fill="#000"/>
<rect x="0" y="452.2" width="520" height="1.8" fill="#000"/>
</svg></body></html>
